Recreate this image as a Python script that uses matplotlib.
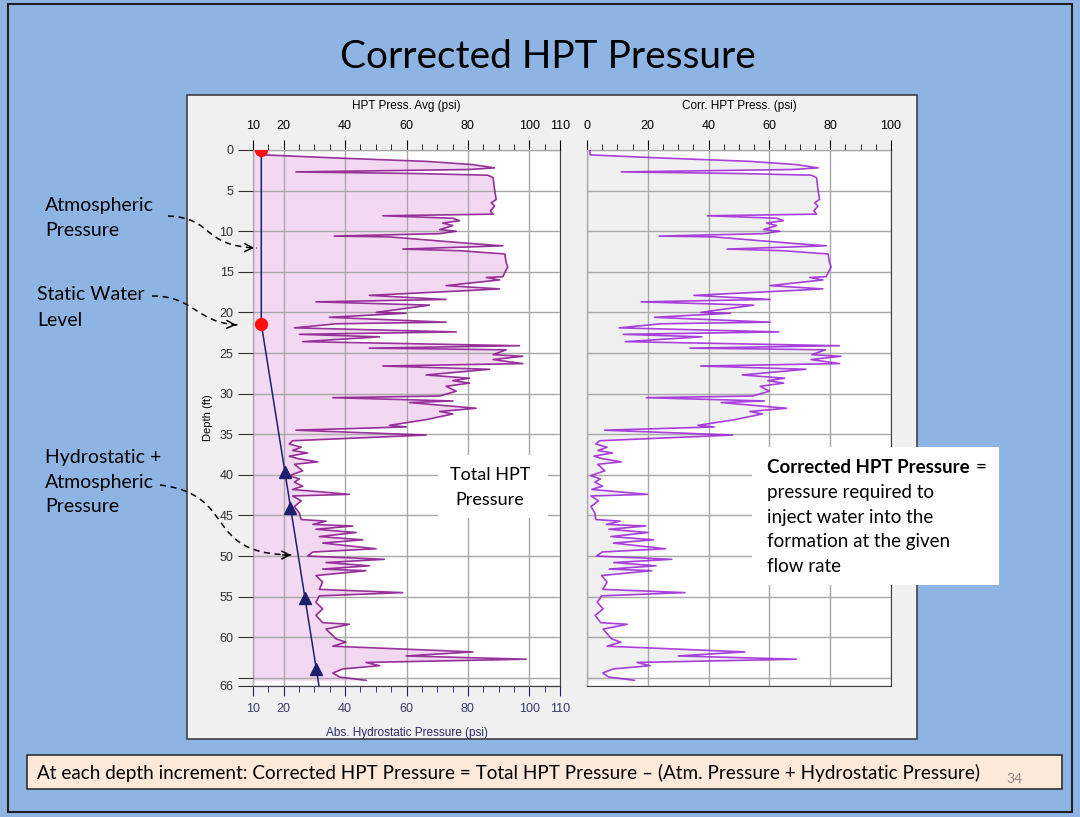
import matplotlib.pyplot as plt
from matplotlib.patches import Rectangle, PathPatch
from matplotlib.path import Path
from matplotlib.ticker import MultipleLocator

depth_ft = [
    0.0, 0.6, 1.0, 1.4, 1.8, 2.2, 2.4, 2.7, 2.9, 3.1, 3.4, 4.9, 6.1, 6.5, 6.9,
    7.5, 7.9, 8.1, 8.4, 8.7, 9.0, 9.3, 9.8, 10.0, 10.3, 10.6, 10.7, 11.5, 11.8,
    12.2, 12.4, 12.8, 13.9, 14.4, 15.1, 15.6, 15.7, 16.0, 16.7, 17.1, 17.3, 17.9,
    18.4, 18.7, 19.1, 20.0, 20.1, 20.6, 21.2, 21.4, 21.9, 22.4, 22.7, 23.0, 23.6,
    24.1, 24.4, 24.6, 25.2, 25.4, 25.8, 26.3, 26.6, 27.0, 27.7, 28.1, 28.4, 28.7,
    29.1, 29.7, 30.3, 30.5, 30.9, 31.1, 31.8, 32.2, 32.5, 33.2, 33.9, 34.1, 34.5,
    35.1, 35.8, 36.2, 36.6, 37.0, 37.3, 37.7, 38.0, 38.4, 38.7, 39.5, 40.1, 40.5,
    40.9, 41.4, 41.8, 42.4, 42.6, 43.2, 43.9, 44.7, 45.5, 45.7, 46.1, 46.3, 46.7,
    47.1, 47.6, 48.0, 48.4, 49.1, 49.5, 50.0, 50.4, 50.8, 51.2, 51.6, 51.8, 52.4,
    53.2, 54.1, 54.5, 54.9, 55.7, 56.5, 57.3, 58.2, 58.4, 59.0, 60.2, 60.6, 61.1,
    61.8, 62.3, 62.7, 63.1, 63.5, 63.9, 64.4, 64.9, 65.3,
]
total_psi = [
    13.7, 13.7, 38.2, 66.4, 81.6, 88.7, 80.5, 24.0, 63.2, 86.5, 88.2, 88.7, 89.2,
    87.6, 88.7, 87.3, 88.2, 52.3, 75.1, 77.3, 71.8, 75.1, 70.8, 76.2, 70.8, 36.5,
    54.5, 80.5, 91.4, 58.8, 77.3, 92.0, 92.5, 93.0, 92.0, 91.4, 86.0, 90.3, 72.9,
    90.3, 80.5, 47.9, 72.9, 30.5, 67.5, 50.1, 59.9, 34.9, 72.9, 37.1, 23.5, 76.2,
    25.1, 51.2, 26.2, 96.8, 47.9, 92.5, 88.2, 97.9, 88.2, 97.9, 52.3, 87.1, 66.4,
    80.5, 75.1, 80.5, 72.9, 76.2, 70.8, 36.0, 75.1, 61.0, 82.7, 70.8, 75.1, 66.4,
    54.5, 59.9, 24.0, 66.4, 22.9, 21.8, 25.7, 22.9, 27.8, 21.8, 24.6, 31.1, 23.5,
    26.2, 21.8, 25.1, 23.5, 26.2, 22.9, 41.4, 22.9, 25.7, 23.5, 25.1, 25.7, 33.8,
    29.5, 42.5, 30.5, 43.6, 31.6, 45.8, 32.7, 50.1, 29.5, 27.8, 52.8, 33.8, 47.9,
    32.7, 46.8, 30.5, 32.7, 31.6, 58.8, 31.6, 30.5, 32.7, 30.5, 32.7, 41.4, 33.8,
    37.1, 40.3, 36.0, 81.6, 59.9, 99.0, 46.8, 51.2, 39.2, 36.0, 38.2, 46.8,
]
corr_psi = [
    1.0, 1.0, 25.5, 53.7, 68.9, 76.0, 67.8, 11.3, 50.5, 73.8, 75.5, 76.0, 76.5,
    74.9, 76.0, 74.6, 75.5, 39.6, 62.4, 64.6, 59.1, 62.4, 58.1, 63.5, 58.1, 23.8,
    41.8, 67.8, 78.7, 46.1, 64.6, 79.3, 79.8, 80.3, 79.3, 78.7, 73.3, 77.6, 60.2,
    77.6, 67.8, 35.2, 60.2, 17.8, 54.8, 37.4, 47.2, 22.2, 60.2, 24.4, 10.6, 63.1,
    11.9, 37.8, 12.6, 83.0, 33.9, 78.5, 73.9, 83.5, 73.7, 83.1, 37.4, 72.0, 51.1,
    65.0, 59.5, 64.7, 57.0, 60.0, 54.4, 19.5, 58.4, 44.2, 65.6, 53.6, 57.7, 48.7,
    36.5, 41.9, 5.8, 47.9, 4.2, 2.9, 6.6, 3.6, 8.4, 2.3, 4.9, 11.3, 3.5,
    5.9, 1.2, 4.4, 2.6, 5.1, 1.6, 19.9, 1.3, 3.8, 1.3, 2.6, 2.9, 10.9,
    6.4, 19.3, 7.2, 20.1, 7.9, 21.9, 8.7, 25.8, 5.0, 3.1, 27.9, 8.8, 22.7,
    7.3, 21.3, 4.8, 6.6, 5.2, 32.2, 4.8, 3.4, 5.3, 2.7, 4.5, 13.2, 5.3,
    8.1, 11.1, 6.6, 51.9, 30.0, 68.9, 16.5, 20.7, 8.6, 5.2, 7.2, 15.6,
]

# atmospheric + hydrostatic reference line
hydro_depth = [0.0, 21.4, 66.0]
hydro_psi = [12.7, 12.7, 31.5]
swl_depth = [0.0, 21.4]
swl_psi = [12.7, 12.7]
tri_depth = [39.6, 44.1, 55.2, 63.9]
tri_psi = [20.3, 22.2, 26.9, 30.6]

W, H = 1080, 817
SLIDE_BLUE = "#8DB4E2"
NAVY = "#1F1F70"
GRID = "#A8A8A8"
SPINE = "#404040"
CHART_FONT = "Liberation Sans"
SLIDE_FONT = "Lato"


def px_rect(x0, y0, x1, y1):
    return [x0 / W, 1 - y1 / H, (x1 - x0) / W, (y1 - y0) / H]


fig = plt.figure(figsize=(W / 100, H / 100), dpi=100)
fig.patch.set_facecolor(SLIDE_BLUE)

# background layer in pixel coordinates
bg = fig.add_axes([0, 0, 1, 1], zorder=0)
bg.set_xlim(0, W)
bg.set_ylim(H, 0)
bg.axis("off")
bg.add_patch(Rectangle((8, 4), 1064, 808, fc="none", ec="#202020", lw=1.5))
bg.add_patch(Rectangle((187, 95), 730, 644, fc="#F0F0F0", ec=SPINE, lw=1.2))
bg.add_patch(Rectangle((27, 755), 1035, 34, fc="#FDE9D9", ec="#303030", lw=1.2))
bg.text(548, 57, "Corrected HPT Pressure", ha="center", va="center",
        fontsize=28, family=SLIDE_FONT, color="black")
bg.text(37, 773, "At each depth increment: Corrected HPT Pressure = Total HPT "
        "Pressure \u2013 (Atm. Pressure + Hydrostatic Pressure)",
        ha="left", va="center", fontsize=13.6, family=SLIDE_FONT)
bg.text(1014, 779, "34", ha="center", va="center", fontsize=10,
        family=SLIDE_FONT, color="#8C8C8C")

side_labels = [
    (45, 205, "Atmospheric"), (45, 230, "Pressure"),
    (37, 295, "Static Water"), (37, 320, "Level"),
    (45, 457, "Hydrostatic +"), (45, 482, "Atmospheric"), (45, 507, "Pressure"),
]
for x, y, s in side_labels:
    bg.text(x, y, s, ha="left", va="center", fontsize=14, family=SLIDE_FONT)

# left panel: total HPT pressure
ax1 = fig.add_axes(px_rect(253, 150, 560, 686), zorder=2)
ax1.set_xlim(10, 110)
ax1.set_ylim(66, 0)
ax1.fill_betweenx(depth_ft, 10, total_psi, color="#F3D8F1", lw=0, zorder=1)
ax1.plot(total_psi, depth_ft, color="#86108A", lw=1.2, alpha=0.85, zorder=3)
ax1.plot(hydro_psi, hydro_depth, color=NAVY, lw=1.1, zorder=4)
ax1.plot(tri_psi, tri_depth, ls="none", marker="^", ms=8, color=NAVY, zorder=5)
ax1.plot(swl_psi, swl_depth, ls="none", marker="o", ms=8.5, color="#FF1010",
         zorder=5)

ax1.xaxis.set_ticks_position("top")
ax1.xaxis.set_label_position("top")
ax1.set_xticks([10, 20, 40, 60, 80, 100, 110])
ax1.xaxis.set_minor_locator(MultipleLocator(5))
ax1.set_xlabel("HPT Press. Avg (psi)", fontsize=8.5, family=CHART_FONT,
               labelpad=8)
ax1.set_yticks([0, 5, 10, 15, 20, 25, 30, 35, 40, 45, 50, 55, 60, 65, 66])
ax1.set_yticklabels(["0", "5", "10", "15", "20", "25", "30", "35", "40", "45",
                     "50", "55", "60", "", "66"])
ax1.set_ylabel("Depth (ft)", fontsize=8, family=CHART_FONT, labelpad=5)
ax1.tick_params(axis="x", which="major", length=7, labelsize=9, pad=6)
ax1.tick_params(axis="x", which="minor", length=4)
ax1.tick_params(axis="y", length=11, labelsize=9, pad=3, colors="#303030")

sec = ax1.secondary_xaxis("bottom")
sec.set_xticks([10, 20, 40, 60, 80, 100, 110])
sec.xaxis.set_minor_locator(MultipleLocator(5))
sec.tick_params(axis="x", which="major", length=7, labelsize=9, pad=5,
                colors=NAVY, labelcolor="#3A3A6E")
sec.tick_params(axis="x", which="minor", length=4, colors=NAVY)
sec.set_xlabel("Abs. Hydrostatic Pressure (psi)", fontsize=8.5,
               family=CHART_FONT, color="#2A2A6A", labelpad=9)
sec.spines["bottom"].set_color(SPINE)

# right panel: corrected HPT pressure
ax2 = fig.add_axes(px_rect(587, 150, 891, 686), zorder=2)
ax2.set_xlim(0, 100)
ax2.set_ylim(66, 0)
ax2.fill_betweenx(depth_ft, 0, corr_psi, color="#F0F0F0", lw=0, zorder=1)
ax2.plot(corr_psi, depth_ft, color="#9A1FD6", lw=1.2, alpha=0.85, zorder=3)
ax2.xaxis.set_ticks_position("top")
ax2.xaxis.set_label_position("top")
ax2.set_xticks([0, 20, 40, 60, 80, 100])
ax2.xaxis.set_minor_locator(MultipleLocator(5))
ax2.set_xlabel("Corr. HPT Press. (psi)", fontsize=8.5, family=CHART_FONT,
               labelpad=8)
ax2.set_yticks([0, 5, 10, 15, 20, 25, 30, 35, 40, 45, 50, 55, 60, 65, 66])
ax2.tick_params(axis="y", left=False, labelleft=False)
ax2.tick_params(axis="x", which="major", length=7, labelsize=9, pad=6)
ax2.tick_params(axis="x", which="minor", length=4)

for ax in (ax1, ax2):
    ax.set_facecolor("white")
    ax.set_axisbelow(False)
    ax.grid(True, which="major", color=GRID, lw=1)
    for lbl in ax.get_xticklabels() + ax.get_yticklabels():
        lbl.set_family(CHART_FONT)
    for sp in ax.spines.values():
        sp.set_color(SPINE)
for lbl in sec.get_xticklabels():
    lbl.set_family(CHART_FONT)

# foreground layer: call-out boxes and arrows
fg = fig.add_axes([0, 0, 1, 1], zorder=5)
fg.set_xlim(0, W)
fg.set_ylim(H, 0)
fg.axis("off")
fg.patch.set_visible(False)

fg.add_patch(Rectangle((438, 455), 110, 63, fc="white", ec="none"))
fg.text(490, 475, "Total HPT", ha="center", va="center", fontsize=13,
        family=SLIDE_FONT)
fg.text(490, 500, "Pressure", ha="center", va="center", fontsize=13,
        family=SLIDE_FONT)

fg.add_patch(Rectangle((752, 447), 247, 138, fc="white", ec="none"))
bold = fg.text(767, 467, "Corrected HPT Pressure", ha="left", va="center",
               fontsize=13.5, family=SLIDE_FONT, weight="bold")
fig.canvas.draw()
bb = bold.get_window_extent().transformed(fg.transData.inverted())
fg.text(bb.x1 + 6, 467, "=", ha="left", va="center", fontsize=13.5,
        family=SLIDE_FONT)
for i, s in enumerate(["pressure required to", "inject water into the",
                       "formation at the given", "flow rate"]):
    fg.text(767, 492 + 25 * i, s, ha="left", va="center", fontsize=13.5,
            family=SLIDE_FONT)

curves = [
    [(168, 216), (215, 218), (200, 246), (257, 248)],
    [(152, 296), (195, 296), (195, 323), (239, 325)],
    [(160, 485), (240, 495), (200, 555), (294, 555)],
]
for pts in curves:
    path = Path(pts, [Path.MOVETO, Path.CURVE4, Path.CURVE4, Path.CURVE4])
    fg.add_patch(PathPatch(path, fc="none", ec="black", lw=1.1,
                           ls=(0, (4, 3))))
    (xa, ya), (xb, yb) = pts[2], pts[3]
    fg.annotate("", xy=(xb, yb), xytext=(xb - 0.15 * (xb - xa),
                                         yb - 0.15 * (yb - ya)),
                arrowprops=dict(arrowstyle="->", color="black", lw=1.1,
                                mutation_scale=14))

fig.savefig("out.png", dpi=100, facecolor=fig.get_facecolor())
